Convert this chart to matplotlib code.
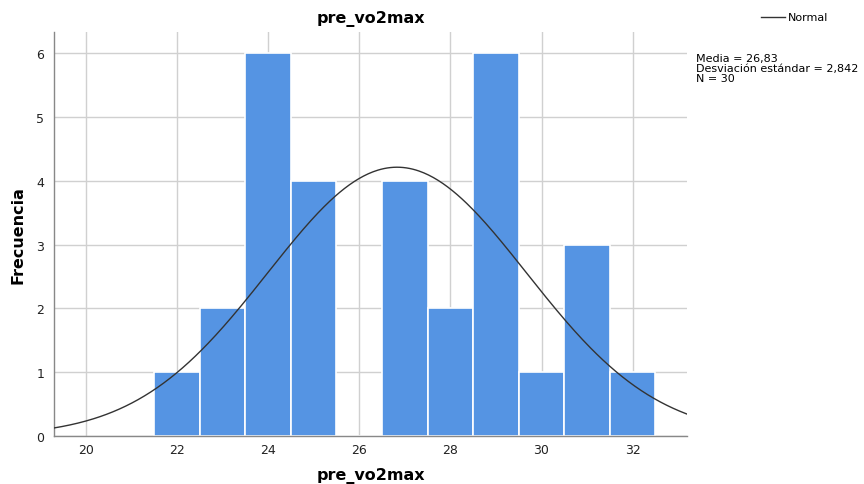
import numpy as np
import matplotlib
matplotlib.use('Agg')
import matplotlib.pyplot as plt

# histogram bins (width 1) and counts
bin_edges = [21.5, 22.5, 23.5, 24.5, 25.5, 26.5, 27.5, 28.5, 29.5, 30.5, 31.5, 32.5]
counts = [1, 2, 6, 4, 0, 4, 2, 6, 1, 3, 1]

MEAN = 26.83
SD = 2.842
N = 30
x_ticks = [20, 22, 24, 26, 28, 30, 32]
y_ticks = [0, 1, 2, 3, 4, 5, 6]

BAR_C = '#5594e3'
GRID_C = '#d0d0d0'

fig = plt.figure(figsize=(8.64, 4.85), dpi=100)
ax = fig.add_axes([0.0625, 0.099, 0.733, 0.833])

lefts = np.array(bin_edges[:-1])
widths = np.diff(bin_edges)
ax.bar(lefts, counts, width=widths, align='edge', color=BAR_C,
       edgecolor='white', linewidth=1.2, zorder=2)

xs = np.linspace(19.3, 33.2, 400)
bw = widths[0]
pdf = N * bw / (SD * np.sqrt(2 * np.pi)) * np.exp(-0.5 * ((xs - MEAN) / SD) ** 2)
ax.plot(xs, pdf, color='#333333', lw=1.0, zorder=3)

ax.set_xlim(19.3, 33.2)
ax.set_ylim(0, 6.33)
ax.set_xticks(x_ticks)
ax.set_yticks(y_ticks)
ax.grid(True, color=GRID_C, lw=1.0, zorder=0)
ax.set_axisbelow(True)
for s in ['top', 'right']:
    ax.spines[s].set_visible(False)
for s in ['left', 'bottom']:
    ax.spines[s].set_color('#888888')
    ax.spines[s].set_linewidth(1.0)
ax.tick_params(length=0, labelsize=9, colors='#222222')
ax.tick_params(axis='x', pad=5)
ax.tick_params(axis='y', pad=7)

ax.set_title('pre_vo2max', fontsize=11.5, fontweight='bold', pad=7)
ax.set_xlabel('pre_vo2max', fontsize=11.5, fontweight='bold')
ax.set_ylabel('Frecuencia', fontsize=11.5, fontweight='bold')
ax.xaxis.set_label_coords(0.5, -0.077)
ax.yaxis.set_label_coords(-0.045, 0.5)

# legend line + stats box
fig.add_artist(plt.Line2D([0.881, 0.909], [0.962, 0.962], color='#333333', lw=1.0))
fig.text(0.912, 0.962, 'Normal', fontsize=8, va='center', ha='left')
stats = f'Media = {MEAN:.2f}\nDesviación estándar = {SD:.3f}\nN = {N}'.replace('.', ',')
fig.text(0.806, 0.888, stats, fontsize=8, va='top', ha='left', linespacing=0.95)

fig.savefig('out.png', dpi=100)
